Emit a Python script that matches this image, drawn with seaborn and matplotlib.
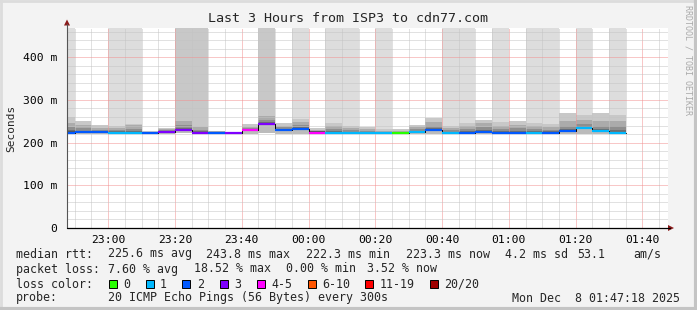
import numpy as np
import pandas as pd
import matplotlib
matplotlib.use("Agg")
import matplotlib.pyplot as plt
import seaborn as sns
from matplotlib.patches import Rectangle, Polygon
from matplotlib.lines import Line2D
from matplotlib.ticker import MultipleLocator

# ---------------- data ----------------
title = "Last 3 Hours from ISP3 to cdn77.com"
window_start = "22:47:40"
window_end = "01:47:40"
bin_end = ["22:50", "22:55", "23:00", "23:05", "23:10", "23:15", "23:20", "23:25",
           "23:30", "23:35", "23:40", "23:45", "23:50", "23:55", "00:00", "00:05",
           "00:10", "00:15", "00:20", "00:25", "00:30", "00:35", "00:40", "00:45",
           "00:50", "00:55", "01:00", "01:05", "01:10", "01:15", "01:20", "01:25",
           "01:30", "01:35"]
median_rtt = [223.5, 224.0, 224.5, 223.0, 223.0, 222.5, 225.0, 229.0,
              222.5, 223.0, 222.5, 229.0, 243.5, 229.7, 232.0, 223.5,
              222.5, 222.5, 222.5, 222.5, 222.5, 225.0, 229.0, 222.5,
              222.5, 225.0, 223.0, 222.5, 222.5, 222.5, 226.5, 233.0,
              226.5, 223.3]
loss_count = [2, 2, 2, 1, 1, 2, 3, 3,
              3, 2, 3, 4, 3, 2, 2, 4,
              1, 1, 1, 1, 0, 1, 2, 1,
              2, 2, 2, 2, 1, 2, 2, 1,
              1, 1]
smoke_lo = [219, 220, 220, 220, 220, 221, 221, 222,
            220, 221, 221, 221, 222, 221, 221, 221,
            220, 220, 221, 221, 221, 221, 219, 220,
            220, 221, 220, 221, 220, 220, 221, 219,
            221, 220]
smoke_q3 = [246, 241, 234, 235, 241, 225, 232, 251,
            237, 226, 223, 237, 262, 240, 249, 230,
            240, 234, 232, 228, 228, 236, 248, 234,
            240, 245, 240, 242, 240, 237, 250, 252,
            250, 250]
smoke_q9 = [260, 250, 241, 238, 244, 227, 234.6, 500,
            500, 227, 224, 243, 500, 247, 255, 233,
            246, 239, 235.5, 231, 231, 241, 258, 239,
            246, 252.6, 249, 250, 246, 243, 270, 264,
            270, 264]
smoke_max = [500, 250, 241, 500, 500, 227, 234.6, 500,
             500, 227, 224, 243, 500, 247, 500, 233,
             500, 500, 235.5, 500, 231, 241, 258, 500,
             500, 252.6, 500, 250, 500, 500, 270, 500,
             270, 500]

x_tick_labels = ["23:00", "23:20", "23:40", "00:00", "00:20", "00:40", "01:00", "01:20", "01:40"]
y_ticks = [0, 100, 200, 300, 400]
y_tick_labels = ["0", "100 m", "200 m", "300 m", "400 m"]

loss_legend_labels = ["0", "1", "2", "3", "4-5", "6-10", "11-19", "20/20"]
loss_legend_colors = ["#26ff00", "#00b8ff", "#0059ff", "#7e00ff", "#ff00ff", "#ff5500", "#ff0000", "#a00000"]

stats_line1 = [("median rtt:", 16), ("225.6 ms avg", 107.5), ("243.8 ms max", 206),
               ("222.3 ms min", 306), ("223.3 ms now", 406), ("4.2 ms sd", 505),
               ("53.1", 577.5), ("am/s", 633)]
stats_line2 = [("packet loss:", 16), ("7.60 % avg", 107.5), ("18.52 % max", 194),
               ("0.00 % min", 286), ("3.52 % now", 367)]
probe_text = "20 ICMP Echo Pings (56 Bytes) every 300s"
date_text = "Mon Dec  8 01:47:18 2025"


def tmin(s):
    parts = [int(p) for p in s.split(":")]
    m = parts[0] * 60 + parts[1] + (parts[2] / 60 if len(parts) > 2 else 0)
    if parts[0] >= 12:
        m -= 1440
    return m


def loss_group(n):
    if n <= 3:
        return str(n)
    if n <= 5:
        return "4-5"
    if n <= 10:
        return "6-10"
    if n <= 19:
        return "11-19"
    return "20/20"


# ---------------- styling ----------------
sns.set_style("white")
plt.rcParams['font.family'] = ['DejaVu Sans Mono', 'DejaVu Sans']

W, H = 697, 310
fig = plt.figure(figsize=(W / 100, H / 100), dpi=100, facecolor='#F3F3F3')


def fx(px):
    return px / W


def fy(py):
    return 1 - py / H


ax = fig.add_axes([fx(67), fy(228), fx(668) - fx(67), fy(27.7) - fy(228)])
ax.set_facecolor('white')

ends = np.array([tmin(s) for s in bin_end])
starts = ends - 5
med = np.array(median_rtt)
lo = np.array(smoke_lo, dtype=float)
q3 = np.array(smoke_q3, dtype=float)
q9 = np.array(smoke_q9, dtype=float)
mx = np.array(smoke_max, dtype=float)

bar_kw = dict(width=5, align='edge', linewidth=0, zorder=1)
ax.bar(starts, mx - lo, bottom=lo, color='#DDDDDD', **bar_kw)
ax.bar(starts, q9 - lo, bottom=lo, color='#C8C8C8', **bar_kw)
ax.bar(starts, q3 - lo, bottom=lo, color='#ABABAB', **bar_kw)
l4 = med + (q3 - med) * 0.55
ax.bar(starts, l4 - lo, bottom=lo, color='#8E8E8E', **bar_kw)
l5 = med + (q3 - med) * 0.25
ax.bar(starts, l5 - lo, bottom=lo, color='#6E6E6E', **bar_kw)
ax.bar(starts, np.full(len(med), 4.0), bottom=med - 1.5, color='#555555', **bar_kw)
ax.bar(starts, med - 1.5 - lo, bottom=lo, color='#BBBBBB', **bar_kw)

# black connecting step line of the median
step_df = pd.DataFrame({"x": np.append(starts, ends[-1]), "y": np.append(med, med[-1])})
sns.lineplot(data=step_df, x="x", y="y", drawstyle="steps-post", color="black",
             linewidth=0.7, ax=ax, zorder=3.6, estimator=None)

# coloured median segments by loss
rows = []
for i in range(len(med)):
    g = loss_group(loss_count[i])
    rows.append({"x": starts[i], "y": med[i], "bin": i, "grp": g})
    rows.append({"x": ends[i], "y": med[i], "bin": i, "grp": g})
mdf = pd.DataFrame(rows)
pal = dict(zip(loss_legend_labels, loss_legend_colors))
sns.lineplot(data=mdf, x="x", y="y", units="bin", hue="grp", estimator=None,
             palette=pal, legend=False, linewidth=1.6, ax=ax, zorder=4,
             solid_capstyle='butt')

ax.set_xlim(tmin(window_start), tmin(window_start) + 180)
ax.set_ylim(0, 469)
ax.set_xlabel("")
ax.set_ylabel("")

ax.set_xticks([tmin(s) for s in x_tick_labels], x_tick_labels)
ax.xaxis.set_minor_locator(MultipleLocator(5))
ax.set_yticks(y_ticks, y_tick_labels)
ax.yaxis.set_minor_locator(MultipleLocator(20))

ax.set_axisbelow(False)
ax.grid(which='minor', color='#C4C4C4', linestyle=(0, (1, 1)), linewidth=0.72)
ax.grid(which='major', color='#F29090', linestyle=(0, (1, 1)), linewidth=0.72)

ax.tick_params(axis='both', which='major', labelsize=8.2, length=2, width=0.7,
               color='#444444', labelcolor='black')
ax.tick_params(axis='y', which='major', pad=5)
ax.tick_params(axis='x', which='major', pad=3)
ax.tick_params(axis='both', which='minor', length=1.5, width=0.6, color='#888888')
for sp in ax.spines.values():
    sp.set_visible(False)

# axis lines & arrows (pixel coordinates)
def P(x, y):
    return (x, H - y)

fig.add_artist(Line2D([67, 67], [H - 228, H - 24], transform=None, color='#555555', lw=0.8))
fig.add_artist(Line2D([67, 670], [H - 228, H - 228], transform=None, color='black', lw=0.9))
fig.add_artist(Polygon([P(67, 19.5), P(64, 25.5), P(70, 25.5)], closed=True,
                       transform=None, color='#8B1A1A', lw=0))
fig.add_artist(Polygon([P(674, 228), P(668, 225), P(668, 231)], closed=True,
                       transform=None, color='#8B1A1A', lw=0))

# texts
fig.text(fx(348.5), fy(19), title, ha='center', va='center', fontsize=9.6)
fig.text(fx(11), fy(128), "Seconds", ha='center', va='center', rotation=90, fontsize=8)
fig.text(fx(688), fy(5), "RRDTOOL / TOBI OETIKER", ha='center', va='top',
         rotation=-90, fontsize=6, color='#AAAAAA')

fs = 8.4
for txt, x in stats_line1:
    fig.text(fx(x), fy(254), txt, ha='left', va='center', fontsize=fs)
for txt, x in stats_line2:
    fig.text(fx(x), fy(269), txt, ha='left', va='center', fontsize=fs)

fig.text(fx(16), fy(284), "loss color:", ha='left', va='center', fontsize=fs)
box_x = [109, 146, 182, 219.5, 256.5, 307.5, 365, 430]
lab_x = [123.6, 160, 197, 234, 271, 322, 380, 444]
for lab, col, bx, lx in zip(loss_legend_labels, loss_legend_colors, box_x, lab_x):
    fig.add_artist(Rectangle((bx, H - 288), 8, 8, transform=None, facecolor=col,
                             edgecolor='black', lw=0.7))
    fig.text(fx(lx), fy(284), lab, ha='left', va='center', fontsize=fs)

fig.text(fx(16), fy(298), "probe:", ha='left', va='center', fontsize=fs)
fig.text(fx(107.5), fy(298), probe_text, ha='left', va='center', fontsize=fs)
fig.text(fx(680), fy(298), date_text, ha='right', va='center', fontsize=fs)

# frame
fig.add_artist(Line2D([0, W], [H - 1, H - 1], transform=None, color='#DCDCDC', lw=2))
fig.add_artist(Line2D([1, 1], [0, H], transform=None, color='#DCDCDC', lw=2))
fig.add_artist(Line2D([0, W], [1.5, 1.5], transform=None, color='#C4C4C4', lw=3))
fig.add_artist(Line2D([W - 1.5, W - 1.5], [0, H], transform=None, color='#C4C4C4', lw=3))

fig.savefig("out.png", dpi=100, facecolor=fig.get_facecolor())
